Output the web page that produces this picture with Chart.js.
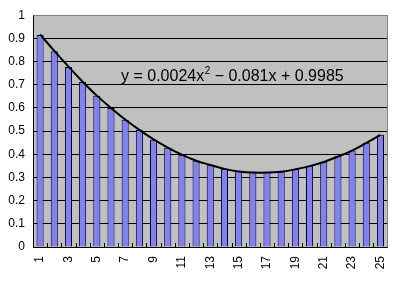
<!DOCTYPE html>
<html>
<head>
<meta charset="utf-8">
<script src="https://cdn.jsdelivr.net/npm/chart.js@4.4.1/dist/chart.umd.min.js"></script>
<style>
html,body{margin:0;padding:0;background:#ffffff;}
#wrap{position:relative;width:404px;height:282px;}
canvas{display:block;}
</style>
</head>
<body>
<div id="wrap"><canvas id="c" width="404" height="282"></canvas></div>
<script>
// ---- data ----
const categories = ["1","2","3","4","5","6","7","8","9","10","11","12","13","14","15","16","17","18","19","20","21","22","23","24","25"];
const barValues = [0.915,0.845,0.777,0.712,0.652,0.600,0.549,0.505,0.463,0.428,0.398,0.373,0.355,0.338,0.327,0.322,0.322,0.326,0.336,0.350,0.368,0.391,0.416,0.450,0.484];
const trendValues = [0.917,0.846,0.778,0.713,0.653,0.600,0.550,0.505,0.464,0.429,0.398,0.372,0.354,0.337,0.326,0.321,0.321,0.325,0.335,0.349,0.367,0.390,0.416,0.449,0.484];
const shownXLabels = ["1","3","5","7","9","11","13","15","17","19","21","23","25"];
const yTickValues = [0,0.1,0.2,0.3,0.4,0.5,0.6,0.7,0.8,0.9,1];
const equationMain = "y = 0.0024x";
const equationSup = "2";
const equationRest = " \u2212 0.081x + 0.9985";

const FONT = "'Liberation Sans', Arial, sans-serif";

const plotDecor = {
  id: 'plotDecor',
  beforeDraw(chart) {
    const {ctx, chartArea: a} = chart;
    ctx.save();
    ctx.fillStyle = '#c0c0c0';
    ctx.fillRect(a.left, a.top, a.right - a.left, a.bottom - a.top);
    ctx.restore();
  },
  afterDatasetsDraw(chart) {
    const {ctx, chartArea: a} = chart;
    const n = categories.length;
    const w = (a.right - a.left) / n;
    ctx.save();
    ctx.strokeStyle = '#000000';
    ctx.lineWidth = 1;
    ctx.beginPath();
    for (let i = 1; i < n; i++) {
      const x = Math.round(a.left + i * w) + 0.5;
      ctx.moveTo(x, a.bottom);
      ctx.lineTo(x, a.bottom - 4);
    }
    ctx.stroke();
    ctx.strokeStyle = '#808080';
    ctx.beginPath();
    ctx.moveTo(Math.round(a.left)+0.5, Math.round(a.top)+0.5);
    ctx.lineTo(Math.round(a.right)-0.5, Math.round(a.top)+0.5);
    ctx.lineTo(Math.round(a.right)-0.5, Math.round(a.bottom)+0.5);
    ctx.stroke();
    ctx.restore();
  },
  afterDraw(chart) {
    const {ctx} = chart;
    ctx.save();
    ctx.fillStyle = '#000000';
    ctx.textBaseline = 'alphabetic';
    ctx.font = '16px ' + FONT;
    let x = 121, y = 81;
    ctx.fillText(equationMain, x, y);
    x += ctx.measureText(equationMain).width;
    ctx.font = '10px ' + FONT;
    ctx.fillText(equationSup, x + 0.5, y - 7);
    x += ctx.measureText(equationSup).width + 0.5;
    ctx.font = '16px ' + FONT;
    ctx.fillText(equationRest, x, y);
    ctx.restore();
  }
};

new Chart(document.getElementById('c'), {
  data: {
    labels: categories,
    datasets: [
      {
        type: 'line',
        data: trendValues,
        borderColor: '#000000',
        borderWidth: 2,
        pointRadius: 0,
        tension: 0.4,
        fill: false,
        order: 1
      },
      {
        type: 'bar',
        data: barValues,
        backgroundColor: '#8080ff',
        borderColor: '#000000',
        borderWidth: 1,
        barPercentage: 1,
        categoryPercentage: 0.5,
        order: 2
      }
    ]
  },
  options: {
    responsive: false,
    animation: false,
    devicePixelRatio: 1,
    layout: {padding: {top: 14, right: 7, left: 0, bottom: 0}},
    plugins: {legend: {display: false}, tooltip: {enabled: false}},
    scales: {
      x: {
        type: 'category',
        offset: true,
        grid: {display: false, drawTicks: false},
        border: {display: true, color: '#000000', width: 1},
        ticks: {
          autoSkip: false,
          minRotation: 90,
          maxRotation: 90,
          padding: 9,
          color: '#000000',
          font: {family: FONT, size: 12},
          callback: function(v, i) {
            const lab = categories[i];
            return shownXLabels.includes(lab) ? lab : '';
          }
        },
        afterFit(s) { s.height = 35; }
      },
      y: {
        min: 0,
        max: 1,
        afterBuildTicks(s) { s.ticks = yTickValues.map(v => ({value: v})); },
        grid: {
          color: ctx => (ctx.tick && ctx.tick.value === 1) ? '#808080' : '#000000',
          lineWidth: 1,
          drawTicks: false
        },
        border: {display: true, color: '#000000', width: 1},
        ticks: {
          padding: 8,
          color: '#000000',
          font: {family: FONT, size: 12},
          callback: v => String(Math.round(v * 10) / 10)
        },
        afterFit(s) { s.width = 33; }
      }
    }
  },
  plugins: [plotDecor]
});
</script>
</body>
</html>
